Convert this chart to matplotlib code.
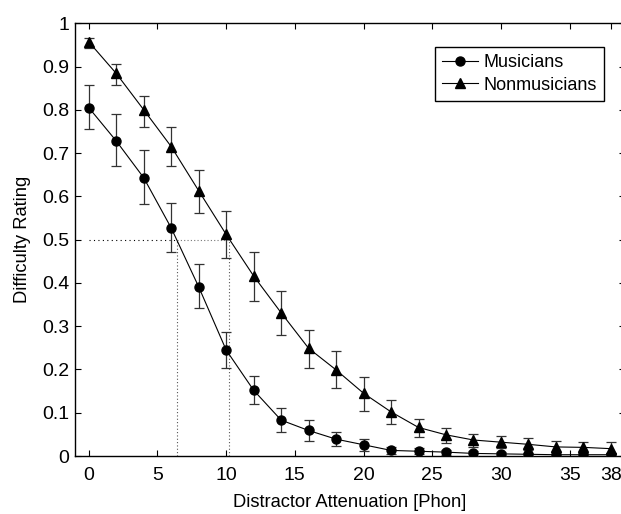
import numpy as np
import matplotlib
matplotlib.use("Agg")
import matplotlib.pyplot as plt
from matplotlib.lines import Line2D

plt.rcParams["font.family"] = ["Liberation Sans", "DejaVu Sans"]

# data
attenuation = [0, 2, 4, 6, 8, 10, 12, 14, 16, 18, 20, 22, 24, 26, 28, 30, 32, 34, 36, 38]

musicians = [0.805, 0.728, 0.643, 0.527, 0.391, 0.245, 0.152, 0.083, 0.059, 0.039,
             0.026, 0.013, 0.011, 0.009, 0.006, 0.005, 0.004, 0.003, 0.003, 0.003]
musicians_lo = [0.755, 0.669, 0.582, 0.472, 0.341, 0.203, 0.120, 0.056, 0.035, 0.023,
                0.012, 0.005, 0.004, 0.003, 0.001, 0.001, 0.000, 0.000, 0.000, 0.000]
musicians_hi = [0.857, 0.790, 0.706, 0.585, 0.444, 0.287, 0.185, 0.110, 0.083, 0.055,
                0.039, 0.021, 0.018, 0.015, 0.011, 0.009, 0.008, 0.006, 0.006, 0.006]

nonmusicians = [0.957, 0.884, 0.800, 0.715, 0.613, 0.512, 0.416, 0.331, 0.249, 0.199,
                0.145, 0.102, 0.066, 0.049, 0.037, 0.032, 0.027, 0.021, 0.020, 0.017]
nonmusicians_lo = [0.942, 0.857, 0.761, 0.669, 0.562, 0.457, 0.358, 0.280, 0.204, 0.158,
                   0.105, 0.073, 0.045, 0.029, 0.021, 0.018, 0.014, 0.009, 0.008, 0.006]
nonmusicians_hi = [0.967, 0.905, 0.833, 0.760, 0.661, 0.565, 0.471, 0.381, 0.291, 0.243,
                   0.182, 0.129, 0.086, 0.064, 0.052, 0.046, 0.041, 0.035, 0.033, 0.032]

threshold = 0.5
thr_musicians = 6.4
thr_nonmusicians = 10.2

x_ticks = [0, 5, 10, 15, 20, 25, 30, 35, 38]
y_ticks = [0, 0.1, 0.2, 0.3, 0.4, 0.5, 0.6, 0.7, 0.8, 0.9, 1]
y_ticklabels = ["0", "0.1", "0.2", "0.3", "0.4", "0.5", "0.6", "0.7", "0.8", "0.9", "1"]

fig = plt.figure(figsize=(6.21, 5.14), dpi=100)
ax = fig.add_axes([0.1208, 0.1128, 0.885, 0.842])

err_kw = dict(ecolor="#333333", elinewidth=0.9, capsize=3.3, capthick=0.9)

m = np.array(musicians)
ax.errorbar(attenuation, m,
            yerr=[m - np.array(musicians_lo), np.array(musicians_hi) - m],
            color="black", linewidth=0.8, marker="o", markersize=6.5,
            zorder=3, **err_kw)
n = np.array(nonmusicians)
ax.errorbar(attenuation, n,
            yerr=[n - np.array(nonmusicians_lo), np.array(nonmusicians_hi) - n],
            color="black", linewidth=0.8, marker="^", markersize=7,
            zorder=3, **err_kw)

# threshold guides
ax.plot([0, thr_musicians], [threshold, threshold], color="black", linestyle=(0, (1, 3)), linewidth=0.8)
ax.plot([thr_musicians, thr_nonmusicians], [threshold, threshold], color="#777777", linestyle=(0, (1, 2)), linewidth=0.8)
ax.plot([thr_musicians, thr_musicians], [0, threshold], color="#555555", linestyle=(0, (1, 2)), linewidth=0.8)
ax.plot([thr_nonmusicians, thr_nonmusicians], [0, threshold], color="#555555", linestyle=(0, (1, 2)), linewidth=0.8)

ax.set_xlim(-1, 39)
ax.set_ylim(0, 1)
ax.set_xticks(x_ticks)
ax.set_yticks(y_ticks)
ax.set_yticklabels(y_ticklabels)
ax.tick_params(direction="in", top=True, right=True, length=4, width=0.8,
               labelsize=14)
ax.tick_params(axis="x", pad=8)
ax.tick_params(axis="y", pad=4)
for s in ax.spines.values():
    s.set_linewidth(1.0)

ax.set_xlabel("Distractor Attenuation [Phon]", fontsize=13.2, labelpad=7)
ax.set_ylabel("Difficulty Rating", fontsize=13.2, labelpad=8)

handles = [
    Line2D([], [], color="black", linewidth=0.8, marker="o", markersize=6.5),
    Line2D([], [], color="black", linewidth=0.8, marker="^", markersize=7),
]
leg = ax.legend(handles, ["Musicians", "Nonmusicians"], loc="upper right",
                bbox_to_anchor=(0.9625, 0.945), fontsize=13,
                frameon=True, fancybox=False, edgecolor="black", framealpha=1,
                handlelength=2.0, handletextpad=0.3, borderpad=0.4,
                labelspacing=0.3, borderaxespad=0)
leg.get_frame().set_linewidth(1.0)

fig.savefig("out.png", dpi=100)
